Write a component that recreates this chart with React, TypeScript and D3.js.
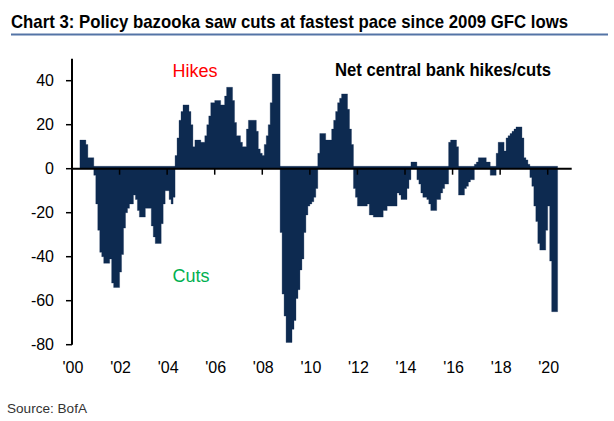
import React, { useLayoutEffect, useRef, useState } from "react";
import * as d3 from "d3";

// Monthly net central bank hikes (+) / cuts (-), Jan..Dec of each year
const v2000 = [null, null, null, null, 13, 13, 13, 11, 5, 5, 5, -3];
const v2001 = [-16, -28, -38, -40, -43, -43, -43, -41, -52, -54, -54, -54];
const v2002 = [-47, -39, -27, -20, -18, -16, -16, -12, -14, -19, -22, -22];
const v2003 = [-22, -18, -18, -18, -26, -31, -34, -34, -34, -25, -16, -10];
const v2004 = [-10, -14, -16, -13, 6, 14, 22, 26, 29, 29, 29, 26];
const v2005 = [20, 10, 13, 13, 13, 12, 12, 15, 20, 24, 30, 30];
const v2006 = [31, 31, 31, 29, 29, 33, 37, 37, 37, 31, 21, 15];
const v2007 = [15, 12, 10, 10, 18, 22, 22, 22, 22, 17, 9, 7];
const v2008 = [6, 11, 15, 20, 30, 43, 43, 43, 43, -29, -57, -67];
const v2009 = [-79, -79, -79, -73, -69, -59, -55, -46, -41, -29, -21, -17];
const v2010 = [-16, -15, -13, -9, 7, 16, 16, 16, 13, 13, 13, 18];
const v2011 = [22, 26, 30, 32, 34, 34, 34, 27, 18, 11, -9, -13];
const v2012 = [-17, -17, -17, -17, -17, -16, -21, -21, -22, -22, -22, -22];
const v2013 = [-22, -19, -19, -17, -17, -17, -17, -17, -11, -12, -14, -14];
const v2014 = [-14, -9, -5, 3, 3, 3, -5, -7, -11, -13, -13, -14];
const v2015 = [-16, -19, -19, -19, -14, -14, -11, -9, -7, -7, 12, 13];
const v2016 = [13, 13, 10, -12, -12, -12, -9, -8, -6, -5, -5, 2];
const v2017 = [3, 5, 5, 5, 5, 3, 3, -3, -3, -3, 7, 12];
const v2018 = [12, 12, 8, 14, 15, 16, 17, 18, 19, 19, 19, 14];
const v2019 = [5, 4, 2, -4, -8, -17, -24, -34, -37, -37, -37, -28];
const v2020 = [-17, -42, -65, -65, -65];

const years = [v2000, v2001, v2002, v2003, v2004, v2005, v2006, v2007, v2008, v2009, v2010,
  v2011, v2012, v2013, v2014, v2015, v2016, v2017, v2018, v2019, v2020];

const yTicks = [40, 20, 0, -20, -40, -60, -80];
const xTickYears = [2000, 2002, 2004, 2006, 2008, 2010, 2012, 2014, 2016, 2018, 2020];
const xTickLabels = ["'00", "'02", "'04", "'06", "'08", "'10", "'12", "'14", "'16", "'18", "'20"];

const title = "Chart 3: Policy bazooka saw cuts at fastest pace since 2009 GFC lows";
const seriesLabel = "Net central bank hikes/cuts";
const source = "Source:  BofA";

export default function App() {
  const W = 614, H = 421;
  const x = d3.scaleLinear().domain([0, 252]).range([72, 571.5]); // months since Jan 2000
  const y = d3.scaleLinear().domain([-80, 50]).range([344.7, 58.7]);

  const titleRef = useRef<SVGTextElement>(null);
  const [titleScale, setTitleScale] = useState(0.82);
  useLayoutEffect(() => {
    if (titleRef.current) {
      const len = titleRef.current.getComputedTextLength();
      if (len > 0) setTitleScale(557 / len);
    }
  }, []);

  const data: { m: number; v: number }[] = [];
  years.forEach((arr, yi) => arr.forEach((v, mi) => {
    if (v !== null) data.push({ m: yi * 12 + mi, v: v as number });
  }));
  const last = data[data.length - 1];
  const pts = [...data, { m: last.m + 1, v: last.v }];

  const navy = "#0d2a50";
  const font = "'Liberation Sans', Arial, sans-serif";
  const y0 = y(0);

  const area = d3.area<{ m: number; v: number }>()
    .x((d) => x(d.m))
    .y0((d) => (d.v >= 0 ? y0 : y0 - 2.4))
    .y1((d) => y(d.v))
    .curve(d3.curveStepAfter);

  return (
    <svg width={W} height={H} style={{ position: "absolute", left: 0, top: 0, background: "#fff" }}>
      <g transform={`translate(11,28) scale(${titleScale},1)`}>
        <text ref={titleRef} x={0} y={0} fontFamily={font} fontWeight="bold" fontSize={19} fill="#000">{title}</text>
      </g>
      <line x1={11} x2={608} y1={34.5} y2={34.5} stroke="#5474a6" strokeWidth={2} />

      <path d={area(pts) || ""} fill={navy} stroke={navy} strokeWidth={0.3} />

      {/* y axis */}
      <line x1={72} x2={72} y1={y(50)} y2={y(-80)} stroke="#000" strokeWidth={2} />
      {yTicks.map((t) => (
        <g key={t}>
          <line x1={66} x2={72} y1={y(t)} y2={y(t)} stroke="#000" strokeWidth={1.5} />
          <text x={54} y={y(t)} dy="0.36em" textAnchor="end" fontFamily={font} fontSize={16} fill="#000">{t}</text>
        </g>
      ))}

      {/* x axis */}
      <line x1={72} x2={571.7} y1={y0} y2={y0} stroke="#000" strokeWidth={2} />
      {xTickYears.map((yr, i) => {
        const xm = x((yr - 2000) * 12);
        return (
          <g key={yr}>
            {i > 0 && <line x1={xm} x2={xm} y1={y0} y2={y0 + 6} stroke="#000" strokeWidth={1.5} />}
            <text x={xm + 1} y={373} textAnchor="middle" fontFamily={font} fontSize={16} fill="#000">{xTickLabels[i]}</text>
          </g>
        );
      })}

      <text x={172.5} y={77} fontFamily={font} fontSize={18} fill="#ff0000">Hikes</text>
      <text x={172.5} y={282} fontFamily={font} fontSize={18} fill="#00b050">Cuts</text>
      <text x={335} y={76} fontFamily={font} fontWeight="bold" fontSize={18} fill="#000"
        textLength={216} lengthAdjust="spacingAndGlyphs">{seriesLabel}</text>

      <text x={7} y={413} fontFamily={font} fontSize={13} fill="#333"
        textLength={80} lengthAdjust="spacingAndGlyphs">{source}</text>
    </svg>
  );
}
